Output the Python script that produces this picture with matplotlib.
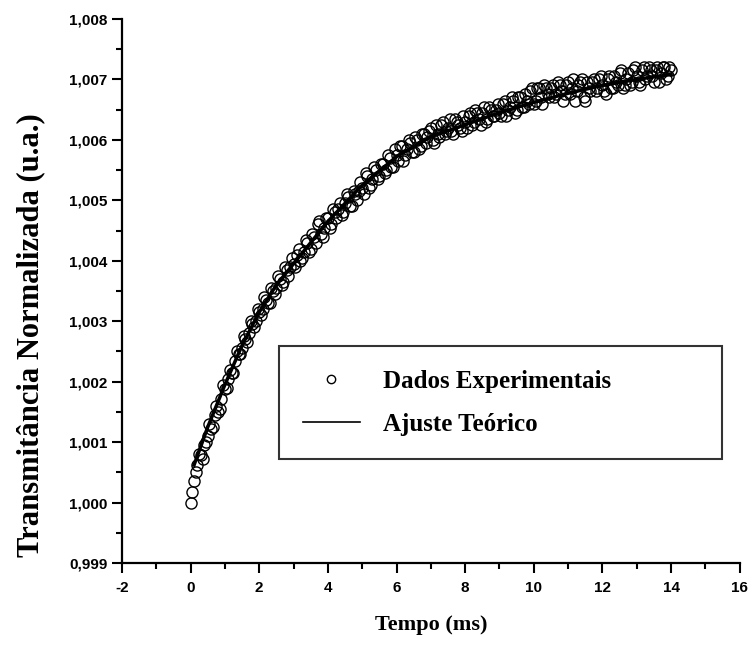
import numpy as np
import matplotlib
matplotlib.use('Agg')
import matplotlib.pyplot as plt
from matplotlib.ticker import AutoMinorLocator, FuncFormatter

# experimental points (y in units of 1e-3 above 1)
# samples at 0.0, 0.1, ..., 14.0 ms
y_data_milli = [
    0.00, 0.36, 0.62, 0.78, 0.95, 1.10, 1.22, 1.45, 1.50, 1.72,
    1.88, 2.05, 2.15, 2.35, 2.45, 2.55, 2.70, 2.80, 2.95, 3.00,
    3.15, 3.20, 3.35, 3.30, 3.50, 3.55, 3.70, 3.65, 3.85, 3.90,
    3.95, 4.10, 4.00, 4.15, 4.30, 4.20, 4.40, 4.60, 4.45, 4.55,
    4.70, 4.60, 4.80, 4.85, 4.75, 4.95, 5.05, 4.90, 5.10, 5.15,
    5.20, 5.45, 5.20, 5.35, 5.50, 5.40, 5.60, 5.50, 5.70, 5.55,
    5.75, 5.90, 5.65, 5.85, 5.95, 5.80, 6.00, 5.90, 6.10, 6.05,
    6.20, 5.95, 6.10, 6.25, 6.10, 6.20, 6.15, 6.35, 6.25, 6.15,
    6.30, 6.40, 6.25, 6.50, 6.35, 6.45, 6.30, 6.55, 6.40, 6.50,
    6.45, 6.60, 6.40, 6.55, 6.65, 6.50, 6.70, 6.55, 6.65, 6.80,
    6.60, 6.85, 6.70, 6.90, 6.75, 6.85, 6.70, 6.95, 6.80, 6.75,
    6.95, 6.85, 6.65, 6.90, 7.00, 6.65, 6.85, 6.95, 6.80, 7.00,
    6.90, 6.75, 7.05, 6.85, 6.95, 7.10, 6.85, 7.00, 6.90, 7.15,
    7.05, 6.90, 7.20, 7.05, 7.15, 6.95, 7.20, 7.10, 7.20, 7.05,
    7.15,
]
# samples at 0.05, 0.15, ..., 13.95 ms
y_half_milli = [
    0.18, 0.50, 0.80, 0.72, 1.00, 1.30, 1.25, 1.60, 1.55, 1.95,
    1.90, 2.20, 2.15, 2.50, 2.45, 2.75, 2.65, 3.00, 2.90, 3.20,
    3.10, 3.40, 3.30, 3.55, 3.45, 3.75, 3.60, 3.90, 3.75, 4.05,
    3.90, 4.20, 4.05, 4.35, 4.15, 4.45, 4.30, 4.65, 4.40, 4.70,
    4.55, 4.85, 4.70, 4.95, 4.80, 5.10, 4.90, 5.15, 5.00, 5.30,
    5.10, 5.40, 5.25, 5.55, 5.35, 5.60, 5.45, 5.75, 5.55, 5.85,
    5.65, 5.90, 5.75, 6.00, 5.80, 6.05, 5.85, 6.10, 5.95, 6.15,
    6.00, 6.25, 6.05, 6.30, 6.15, 6.35, 6.10, 6.30, 6.20, 6.40,
    6.20, 6.45, 6.30, 6.45, 6.25, 6.55, 6.35, 6.50, 6.40, 6.60,
    6.40, 6.65, 6.50, 6.70, 6.45, 6.70, 6.55, 6.75, 6.60, 6.85,
    6.65, 6.85, 6.60, 6.85, 6.70, 6.90, 6.75, 6.90, 6.65, 6.90,
    6.75, 7.00, 6.80, 6.95, 6.70, 6.95, 6.80, 7.00, 6.85, 7.05,
    6.80, 7.00, 6.85, 7.05, 6.90, 7.15, 6.90, 7.10, 6.95, 7.20,
    6.95, 7.15, 7.00, 7.20, 7.05, 7.15, 6.95, 7.20, 7.00, 7.20,
]

# fitted curve
t_fit = [0.1, 0.5, 1.0, 1.5, 2.0, 2.5, 3.0, 3.5, 4.0, 5.0, 6.0, 7.0,
         8.0, 9.0, 10.0, 11.0, 12.0, 13.0, 14.0]
y_fit_milli = [0.62, 1.25, 1.95, 2.60, 3.15, 3.60, 3.95, 4.30, 4.65, 5.25,
               5.72, 6.05, 6.25, 6.45, 6.62, 6.77, 6.90, 7.00, 7.08]

t_data = np.concatenate([np.arange(len(y_data_milli)) * 0.1,
                         np.arange(len(y_half_milli)) * 0.1 + 0.05])
y_data = 1 + np.array(y_data_milli + y_half_milli) * 1e-3
y_fit = 1 + np.array(y_fit_milli) * 1e-3

serif = ['Liberation Serif', 'DejaVu Serif']
sans = ['Liberation Sans', 'DejaVu Sans']

fig = plt.figure(figsize=(7.48, 6.51), dpi=100)
ax = fig.add_axes([0.163, 0.135, 0.826, 0.836])

ax.plot(t_data, y_data, linestyle='none', marker='o', markersize=8,
        markerfacecolor='none', markeredgecolor='black', markeredgewidth=1.0,
        label='Dados Experimentais')
ax.plot(t_fit, y_fit, color='black', linewidth=2.5, label='Ajuste Teórico')

ax.set_xlim(-2, 16)
ax.set_ylim(0.999, 1.008)
ax.set_xticks(np.arange(-2, 17, 2))
ax.set_yticks(np.round(np.arange(0.999, 1.0081, 0.001), 3))
ax.xaxis.set_minor_locator(AutoMinorLocator(2))
ax.yaxis.set_minor_locator(AutoMinorLocator(2))
ax.yaxis.set_major_formatter(FuncFormatter(lambda v, p: f"{v:.3f}".replace('.', ',')))
ax.xaxis.set_major_formatter(FuncFormatter(lambda v, p: f"{v:.0f}"))

for s in ['top', 'right']:
    ax.spines[s].set_visible(False)
for s in ['left', 'bottom']:
    ax.spines[s].set_linewidth(1.6)

ax.tick_params(which='major', direction='out', length=7, width=1.5)
ax.tick_params(which='minor', direction='out', length=4, width=1.5)
ax.tick_params(axis='x', which='major', pad=6)
for lab in ax.get_xticklabels() + ax.get_yticklabels():
    lab.set_fontfamily(sans)
    lab.set_fontweight('bold')
    lab.set_fontsize(11)

ax.set_xlabel('Tempo (ms)', fontfamily=serif, fontweight='bold', fontsize=16, labelpad=14)
ax.set_ylabel('Transmitância Normalizada (u.a.)', fontfamily=serif, fontweight='bold',
              fontsize=22)
ax.yaxis.set_label_coords(-0.124, 0.418)

leg = ax.legend(loc='upper left', bbox_to_anchor=(0.254, 0.201, 0.717, 0.198),
                mode='expand', borderaxespad=0, frameon=True, fancybox=False,
                edgecolor='black', prop={'family': serif, 'weight': 'bold', 'size': 18},
                borderpad=0.95, labelspacing=0.8, handlelength=2.3, handletextpad=0.9,
                markerscale=0.75)
leg.get_frame().set_linewidth(1.5)
leg.legend_handles[1].set_linewidth(1.2)

fig.savefig('out.png', dpi=100)
